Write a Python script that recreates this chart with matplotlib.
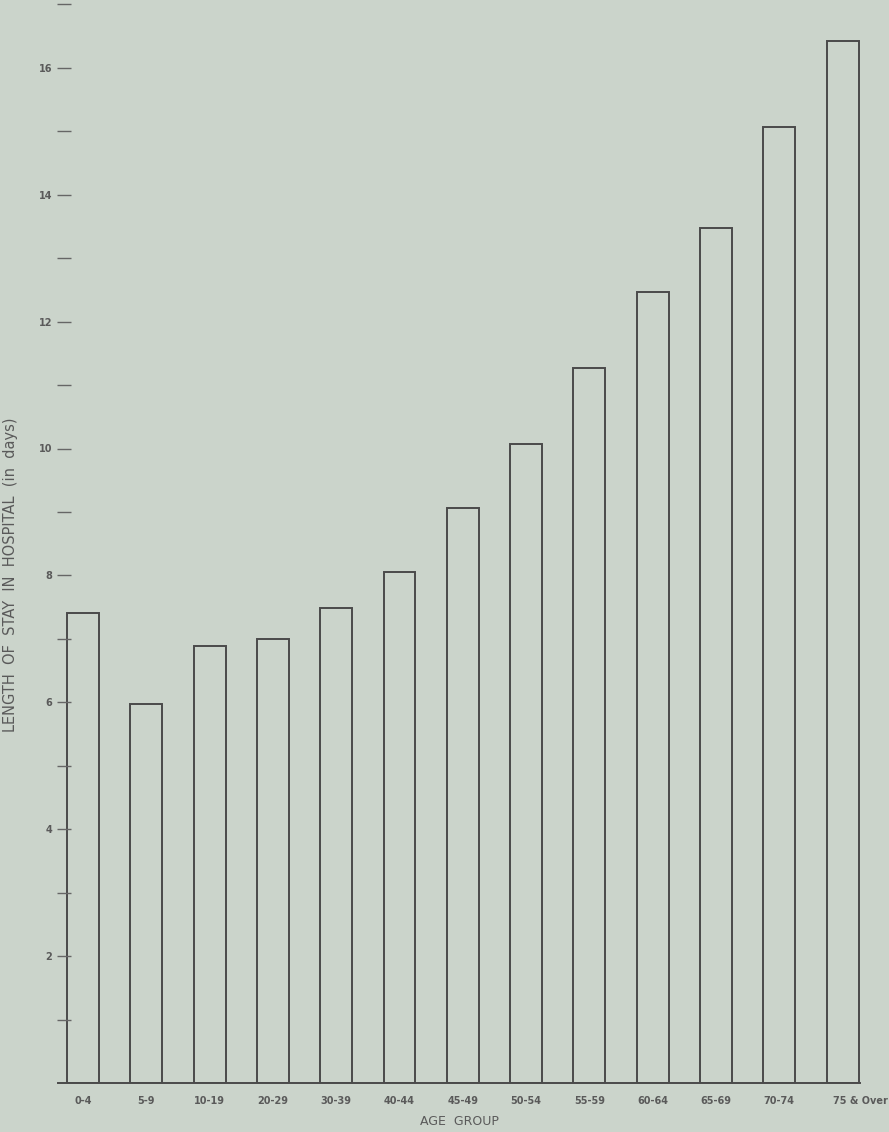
import numpy as np
import matplotlib
matplotlib.use('Agg')
import matplotlib.pyplot as plt
import matplotlib.transforms as mtrans

# age groups and mean length of stay (days)
ageGroups = ['0-4', '5-9', '10-19', '20-29', '30-39', '40-44', '45-49',
             '50-54', '55-59', '60-64', '65-69', '70-74', '75 & Over']
stayDays = [7.41, 5.97, 6.88, 7.00, 7.49, 8.06, 9.07,
            10.07, 11.27, 12.46, 13.48, 15.06, 16.42]
majorTicks = [2, 4, 6, 8, 10, 12, 14, 16]
minorTicks = [1, 3, 5, 7, 9, 11, 13, 15, 17]

bg = '#cbd4cb'
ink = '#4a4a4a'
txt = '#5a5a5a'

W, H = 889, 1132
fig = plt.figure(figsize=(W / 100, H / 100), dpi=100, facecolor=bg)
# axes placed in pixels: bottom spine from x=58 to 860, baseline at y=1083
ax = fig.add_axes([58 / W, (H - 1083) / H, (860 - 58) / W, 1083 / H])
ax.set_facecolor(bg)

x = np.arange(len(ageGroups))
barW = 0.505
ax.bar(x, stayDays, width=barW, facecolor='none', edgecolor=ink, linewidth=1.4)

ax.set_xlim(-0.395, 12.275)
ax.set_ylim(0, 1083 / 63.45)

for s in ['top', 'right']:
    ax.spines[s].set_visible(False)
ax.spines['left'].set_position(('data', -barW / 2 - 0.04))
ax.spines['left'].set_color('none')
ax.spines['bottom'].set_color(ink)
ax.spines['bottom'].set_linewidth(1.4)

ax.set_yticks(majorTicks)
ax.set_yticks(minorTicks, minor=True)
ax.set_yticklabels([str(t) for t in majorTicks])
ax.tick_params(axis='y', which='both', direction='inout', length=10,
               width=1.0, color='#666666', labelsize=7, labelcolor=txt, pad=4)
for lab in ax.get_yticklabels():
    lab.set_fontweight('bold')

ax.set_xticks(x)
ax.set_xticklabels(ageGroups)
ax.tick_params(axis='x', length=0, labelsize=7, labelcolor=txt, pad=9)
for lab in ax.get_xticklabels():
    lab.set_fontweight('bold')
# last label sits a bit right of its bar in the original
last = ax.get_xticklabels()[-1]
last.set_transform(last.get_transform() +
                   mtrans.ScaledTranslation(18 / 100, 0, fig.dpi_scale_trans))

ax.set_xlabel('AGE  GROUP', fontsize=9, color=txt, labelpad=7)
ax.set_ylabel('LENGTH  OF  STAY  IN  HOSPITAL  (in  days)', fontsize=10.5, color=txt)
ax.yaxis.set_label_coords(-0.05, 0.469)

fig.savefig('out.png', dpi=100, facecolor=bg)
